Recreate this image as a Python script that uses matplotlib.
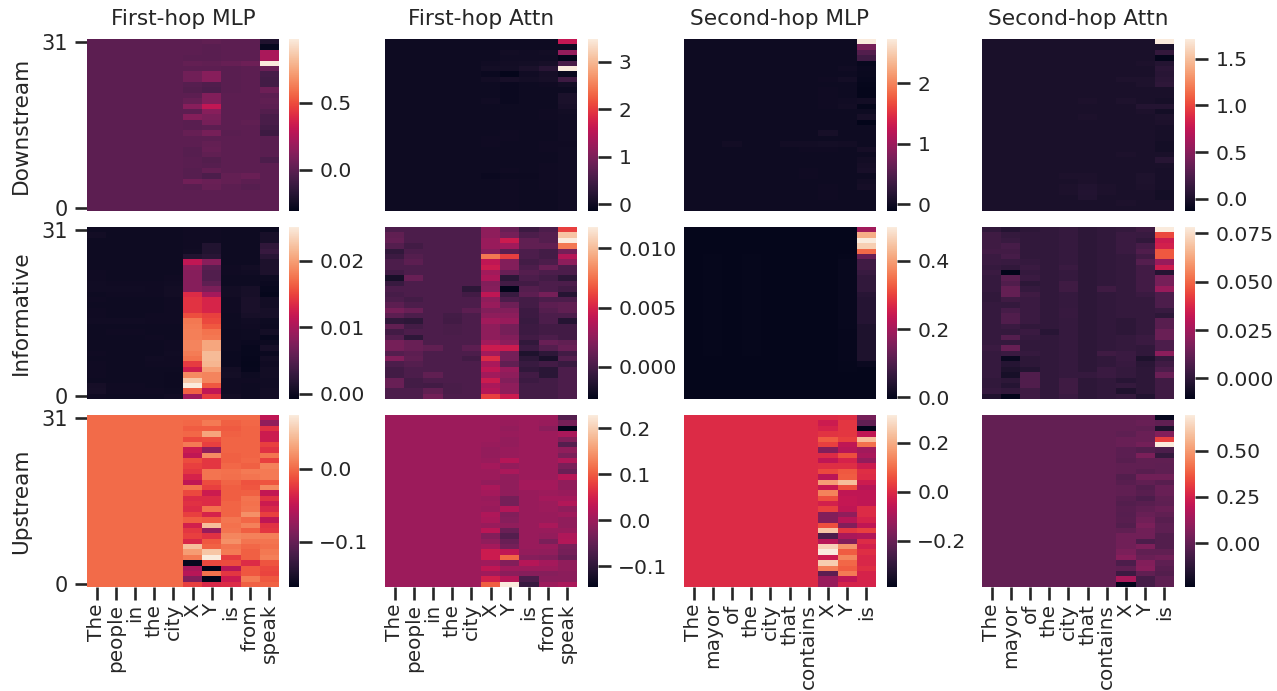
import numpy as np
import matplotlib
matplotlib.use("Agg")
import matplotlib.pyplot as plt
import seaborn as sns

# rows are listed top to bottom (layer 31 first, layer 0 last)
titles = ["First-hop MLP", "First-hop Attn", "Second-hop MLP", "Second-hop Attn"]
row_names = ["Downstream", "Informative", "Upstream"]
first_hop_words = ["The", "people", "in", "the", "city", "X", "Y", "is", "from", "speak"]
second_hop_words = ["The", "mayor", "of", "the", "city", "that", "contains", "X", "Y", "is"]

# ---- Downstream / First-hop MLP
d1_x = [0,0,0,-.01,.02,0,.06,.06,-.02,-.03,0,.03,.13,0,.12,-.01,-.01,.03,0,0,-.02,-.02,-.01,-.01,-.02,-.02,.06,-.01,0,0,0,0]
d1_y = [.01,-.01,-.01,-.01,.01,0,.13,.13,-.04,-.05,.11,.11,.3,.13,.09,.08,0,.08,0,.02,.03,.01,-.03,-.02,.02,-.05,.04,.03,0,0,0,0]
d1_is = [0,0,0,0,.03,-.01,-.01,-.01,-.01,-.01,0,0,0,0,0,0,0,-.01,0,0,0,0,0,0,0,.02,.02,0,0,0,0,0]
d1_from = [0,0,0,0,.05,0,0,0,0,0,0,0,0,0,0,.01,0,0,0,0,0,0,0,0,0,.04,0,-.02,0,0,0,0]
d1_speak = [-.2,-.28,.23,.23,.975,.04,-.07,-.08,-.08,.05,0,.01,0,-.03,-.06,-.06,-.08,-.1,-.01,-.01,-.01,-.01,-.05,0,0,0,0,0,0,0,0,0]

# ---- Informative / First-hop MLP (x 1e-3)
i1_the = [.2,.5,.2,.2,.2,.2,.2,.2,.3,.3,.4,.4,.2,.3,.2,.3,.3,.4,.2,.2,.2,.2,.2,.3,.2,.3,.3,.3,.2,.7,.8,.3]
i1_people = [.2,.2,.2,.2,.2,.2,.2,.2,.2,.2,.3,.4,.3,.2,.2,.2,.2,.4,.2,.3,.2,.2,.2,.2,.2,.2,.2,.2,.2,.3,.3,.2]
i1_the2 = [.2,.2,.2,.2,.2,.2,.2,.2,.2,.2,.3,.3,.3,.2,.2,.2,.3,.3,.2,.2,.3,.2,.2,.2,.4,.3,.2,.2,.2,.2,.3,.2]
i1_city = [.2,.2,.2,.2,.2,.2,.2,.2,.2,.3,.4,.5,.5,.3,.3,.3,.3,.3,.2,.2,.2,.3,.3,.4,.3,.3,.2,.1,.1,.1,.2,.4]
i1_x = [.3,.3,.3,.3,.4,1.5,11.5,8.5,8,8,8,8,13.5,14,14,14,15.5,17.8,18,18.2,18.2,18.5,18.5,18,17.5,14.5,12.5,18.8,22.5,25.1,16.5,9.5]
i1_y = [.3,.3,.3,1.5,1.5,2,8.2,5.2,4.7,4.7,5.5,7.2,9.8,13,13,13,14.8,15.2,16,17.5,17.8,20.5,20.5,21.8,21.8,21.5,20,18.5,18.5,16,11.5,14.5]
i1_is = [.2,.2,.2,.2,.2,.2,.2,.3,.3,.2,.2,.5,.5,.3,.3,.3,.2,.2,.2,.1,.1,.1,.1,0,0,0,.5,.6,.3,.3,.3,.5]
i1_from = [.2,.2,.2,.2,.2,.2,.2,.5,.4,.2,.2,.8,.8,1,1,1,.8,.4,.3,.2,.2,0,-.2,-.2,-.3,-.4,-.3,.2,.3,.2,.2,.2]
i1_speak = [0,.9,.9,2.5,3,2,1.2,1.2,1.2,.2,0,-.2,-.4,.5,.5,.8,.8,.2,.1,.6,-.2,.1,.8,0,.5,.3,.5,.5,.4,.4,.5,.5]

# ---- Upstream / First-hop MLP
u1_x = [0,-.002,-.007,-.002,-.016,.008,-.044,-.051,-.014,-.021,-.025,-.037,-.051,.003,-.016,-.032,-.028,-.032,-.021,-.007,-.04,-.025,-.021,-.035,.045,.026,.008,-.157,-.063,-.056,-.084,-.021]
u1_y = [0,.008,-.007,.031,-.014,-.021,-.077,.017,-.025,-.025,.005,.005,-.014,-.021,-.044,-.032,-.032,.003,-.037,-.009,.045,-.073,-.028,-.009,-.004,.05,.073,-.016,-.162,.003,-.162,-.035]
u1_is = [0,-.005,-.008,-.005,-.003,-.003,-.003,-.005,-.005,-.002,.003,.002,-.003,-.006,-.006,-.006,-.003,-.003,-.003,.006,.003,.005,.014,.02,.005,.008,-.023,-.014,-.056,-.025,-.044,-.032]
u1_from = [0,-.002,-.003,-.003,-.003,-.003,-.003,-.003,-.002,-.005,.008,.005,-.012,-.01,-.005,.005,.003,.005,.02,-.002,.011,-.006,.011,.005,-.002,-.005,-.005,-.032,-.01,-.01,.008,-.005]
u1_speak = [-.051,-.077,-.028,-.044,-.044,-.021,-.028,.005,-.021,.011,.008,.008,-.011,.015,-.049,-.028,-.044,-.035,-.021,-.051,-.028,-.025,.01,.005,.002,.007,.01,-.011,-.016,-.018,-.009,-.004]

# ---- Downstream / First-hop Attn
d2_x = [0,0,0,0,.02,.05,-.03,.03,0,0,0,.02,0,0,0,0,0,0,.01,.01,0,0,0,0,0,-.04,0,0,0,0,0,0]
d2_y = [0,0,.03,.02,.03,.05,-.1,.08,-.03,-.03,-.03,-.03,0,0,0,0,0,.01,.01,0,0,0,0,0,.01,-.02,.01,.01,.01,.01,.01,.01]
d2_is = [0,0,.02,.02,.05,.12,.02,.05,0,0,0,0,0,0,0,0,0,0,0,0,0,0,0,0,0,-.02,0,0,0,0,0,0]
d2_from = [0,0,.03,.02,.08,.25,.06,.08,.01,0,0,0,0,.01,.01,0,0,0,0,.01,.01,0,0,.01,.01,.01,.01,.01,0,0,0,0]
d2_speak = [1.6,0,1.2,-.12,.55,3.48,-.05,.45,.05,0,.12,.12,.1,.04,.02,.02,.02,.02,.02,.01,.02,.02,.02,.02,.02,.02,.02,.02,.02,.02,.02,.02]

# ---- Informative / First-hop Attn (x 1e-3)
i2_the = [.2,.9,1.07,.5,-.8,-.4,.2,.2,-.2,-1.8,-.5,.2,0,.2,.8,1.65,.8,-.8,.9,-.2,.5,1.65,1.65,.5,2.1,.2,-.2,-.2,1.2,1.2,.2,.2]
i2_people = [.2,.2,.2,-.2,.2,.5,.8,.2,.2,1.2,.2,.2,.2,-.1,.2,1.2,.2,-1,-.1,.2,-.9,1.2,1.2,.8,.9,.5,.2,.2,-.1,-.1,.2,.2]
i2_in = [.2,.2,.2,.2,.2,.2,.2,.2,.2,.2,.2,.2,.2,.2,.2,.2,.2,.2,.2,.2,.2,.2,.9,.2,.2,.2,.2,.9,.2,-.2,.9,1.5]
i2_the2 = [.2,.2,.2,.2,.2,.2,.2,.2,.2,.2,.2,.2,.2,.2,.2,.2,-.1,-.2,.1,.1,.2,.2,.2,.2,.2,.2,.2,.2,.2,.1,.1,.2]
i2_city = [.2,.2,.2,.2,.2,.2,.2,.2,.2,.2,.2,-.96,-.2,.2,.2,.8,.2,.2,.2,.2,.2,.2,.8,.2,-.2,.2,.2,.2,.2,.2,.2,.2]
i2_x = [2.5,2.5,2.8,2.8,2.2,7.7,4.1,4.55,3.1,3.5,2.1,2.2,4.1,2.5,2.8,2.1,2.5,3.1,2.5,2.5,2.5,3.1,4.55,3.1,5.3,3.4,4.1,3.1,4.55,3.4,3.8,6]
i2_y = [1.2,1.65,4.55,3.1,.8,6,2.1,2.1,1.2,-.96,-.2,-2.7,-.5,.2,1.36,2.1,2.4,2.8,1.65,1.65,2.1,2.4,4.55,1.65,1.65,.9,2.8,2.5,2.1,2.5,2.5,4.55]
i2_is = [-.4,.2,.9,.9,.2,.2,-.1,.2,.5,.2,-.2,.5,.8,-.1,-.1,-.4,-.4,-.5,-.4,-.4,-.2,-.8,-.4,-1.54,-.96,-.5,-.8,-.2,-.4,-.1,-.1,-.1]
i2_from = [.2,.5,.5,.9,-.1,-.1,.2,1.2,.2,-.1,.2,.2,1.65,.2,.8,.5,.2,.2,-.2,-.2,.2,1.2,.5,-.96,-1.7,-.2,-1.1,-1.1,-.1,-.1,-.1,-.1]
i2_speak = [6,10.3,11.8,7.7,1.65,3.8,2.4,.2,.2,-.96,.2,-.2,-1.25,.2,.9,.9,.2,-1.25,-.2,-.2,-.2,.9,1.2,-.2,.5,-.5,.2,.2,.2,.2,.2,.2]

# ---- Upstream / First-hop Attn
u2_x = [0,0,0,0,0,-.003,-.007,-.007,-.003,.008,0,0,-.007,.012,.008,-.003,0,-.003,.016,.012,-.003,.027,-.022,-.01,.008,.042,.042,.004,.031,.004,.049,.102]
u2_y = [0,-.003,-.007,-.003,-.007,-.007,-.003,-.003,.023,-.007,.012,-.01,-.01,-.01,-.01,-.033,-.033,.019,-.022,-.018,-.01,-.044,-.063,-.044,-.033,.031,.109,-.022,.004,-.014,.023,.229]
u2_is = [0,0,0,0,0,0,0,0,0,0,0,0,.008,.008,-.003,-.003,-.003,-.003,-.003,-.003,-.003,-.003,-.003,-.003,-.003,-.007,-.018,.023,0,-.018,-.07,-.089]
u2_from = [0,-.003,-.014,0,0,0,0,0,0,0,0,0,.008,.008,0,.008,0,0,-.003,-.003,.012,-.003,-.007,-.029,-.003,-.01,-.022,.008,0,-.018,-.014,0]
u2_speak = [-.063,-.033,-.145,.012,-.022,-.063,-.01,-.029,.016,-.029,-.044,.023,-.01,-.01,-.003,.008,.019,-.01,.004,-.01,-.01,-.003,.016,.019,-.029,-.033,-.044,-.01,-.01,-.014,-.014,.012]

# ---- Downstream / Second-hop MLP
d3_of = [0,0,0,0,0,0,0,0,0,0,0,0,0,0,0,0,0,0,0,.03,0,0,0,0,0,0,0,0,0,0,0,0]
d3_city = [0,0,0,0,0,0,0,0,0,0,0,0,0,0,0,0,0,0,0,.03,.01,0,0,0,.01,.01,0,0,0,0,0,0]
d3_contains = [0,0,0,0,0,0,0,.01,0,.01,.01,.01,.01,0,0,0,0,.06,0,.04,.01,0,0,0,0,0,0,.01,.01,.01,0,0]
d3_y = [0,0,0,0,0,.02,0,.04,0,0,0,.02,.03,0,0,0,0,0,0,.03,0,0,0,0,0,0,0,0,0,0,0,0]
d3_is = [2.73,.74,.5,.37,-.05,-.03,-.04,-.05,-.07,-.08,-.08,.03,-.07,0,.06,-.1,0,0,0,0,.05,0,.03,.05,.07,0,.03,.05,0,0,0,0]

# ---- Informative / Second-hop MLP
i3_people = [0,0,0,0,0,.001,.001,.001,.001,.001,.002,.002,.002,.002,.002,.002,.002,.002,.002,.002,.002,.002,.002,.002,0,0,0,0,0,0,0,0]
i3_y = [0,0,0,0,0,.001,.005,.005,.005,.005,.005,.005,.005,.005,.005,.005,.005,.005,.005,.003,.003,.003,.003,.003,.003,.002,.002,0,0,0,0,0]
i3_is = [.197,.42,.5,.46,.34,.13,.08,.08,.07,.06,.06,.06,.05,.045,.045,.045,.045,.045,.035,.035,.035,.035,.035,.035,.035,.01,0,0,0,0,0,0]

# ---- Upstream / Second-hop MLP
u3_x = [0,-.037,-.016,.012,.075,.033,-.157,0,-.058,.005,.047,-.065,.174,-.044,.131,.054,-.023,.033,-.157,-.157,.054,.244,-.248,-.072,.265,.314,-.037,.258,.124,-.22,-.122,-.122]
u3_y = [.005,.019,.019,.019,.033,-.058,-.072,.054,-.016,.005,.068,.075,.23,.054,-.058,-.051,-.051,-.058,-.136,-.072,-.157,.019,-.093,-.157,.16,.075,.138,.089,.075,.117,-.058,-.016]
u3_is = [-.178,-.213,-.389,-.058,.23,.103,-.108,-.093,-.129,-.037,.005,0,-.037,-.072,-.058,-.058,-.058,0,0,-.016,-.058,.033,-.079,0,-.023,.005,-.009,-.009,.005,-.016,-.016,-.016]

# ---- Downstream / Second-hop Attn
d4_city = [0,0,0,0,0,0,0,0,0,0,0,0,0,0,0,0,0,0,0,0,0,0,0,0,0,.01,0,.01,.01,0,0,0]
d4_that = [0,0,0,0,0,0,0,0,0,0,0,.01,0,0,.01,0,0,0,0,0,0,0,0,0,0,.01,.01,.03,.04,.03,0,0]
d4_contains = [0,0,0,0,0,0,0,0,0,0,0,0,0,0,0,0,0,0,0,0,0,0,0,0,0,0,0,.01,.01,0,0,0]
d4_x = [0,0,0,0,0,0,0,.02,0,0,0,.02,0,0,0,0,0,0,0,0,0,.01,0,0,0,0,0,0,0,0,.01,0]
d4_y = [0,0,0,0,.01,0,0,.02,.02,0,0,0,.05,.01,0,0,0,0,0,0,0,0,0,0,0,.02,.02,.01,0,0,0,0]
d4_is = [1.71,0,.12,-.11,.05,.08,.07,.08,.1,0,0,-.02,.05,-.03,.02,.01,-.01,-.02,-.02,-.03,-.03,0,.06,0,-.01,-.01,-.01,-.01,-.03,-.03,0,0]

# ---- Informative / Second-hop Attn (x 1e-3)
i4_the = [1,4,4,4,5,3,3,2,3,2,2,2,1,1,2,2,2,2,2,2,2,2,3,2,2,2,2,2,1,1,2,-3]
i4_mayor = [-1.7,1.9,2.7,6,5,6,2.7,1,-10.6,10,8,12,12,4,1.9,6,8,8,3,1.9,9,1.9,13,3,-7.9,-1.7,-3.5,-5.3,0,-1.7,1,-10.6]
i4_of = [0,1,1,1,1,1,2,3,2,3,0,2,4,3,3,3,3,3,1,3,2,1,1,2,0,0,-2,8,8,8,4,4]
i4_the2 = [1,1,1,1,1,1,1,1,1,1,1,1,1,1,1,1,1,1,1,-1,1,1,1,1,1,1,1,1,1,1,1,1]
i4_city = [2,2,2,2,2,2,2,3,2,2,4,4,2,2,2,2.5,2.5,2,2,2,2,2,2,2,2,2,2,2,4,4,4,3]
i4_that = [0,0,0,0,0,0,0,0,0,0,0,0,0,0,0,0,0,0,0,0,0,0,0,0,0,0,0,2,0,0,0,0]
i4_contains = [1,1,1,1,1,1,1,1,1,1,1,4,1,1,1,1,1,1,1,1,1,1,1,4,1,1,3,3,1,1,1,1]
i4_x = [1.9,3,3,3,3,1.9,1.9,1.9,1.9,1.9,1.9,1.9,1.9,1.9,1.9,1.9,1.9,0,0,0,1.9,1.9,1.9,3,3,2.5,1.9,1.9,-1,1.9,-3,1.9]
i4_y = [4,2.7,1,6,8,5,9,5,5,5,5,5,3,1.9,1.9,1.9,1.9,1.9,1.9,1.9,3,3,1,1,-3.5,-.8,0,0,0,0,0,-2.6]
i4_is = [78.3,44.5,33.9,35.6,47.2,47.2,23.2,33.9,-1.7,16,16,23.2,7.2,7.2,7.2,2.7,0,9.8,9.8,13.4,13.4,7.2,7.2,20.5,1.9,4.5,7.2,13.4,4.5,4.5,4.5,4.5]

# ---- Upstream / Second-hop Attn
u4_x = [0,0,0,-.01,.01,.01,-.016,-.016,-.023,-.005,-.005,-.036,-.023,-.005,-.005,-.023,-.036,-.023,-.03,-.023,-.036,-.005,.03,.03,.03,.05,.08,-.05,-.005,-.09,.15,-.237]
u4_y = [.005,.01,-.005,.016,.016,.036,-.036,.05,-.005,-.005,-.023,.03,-.005,-.036,-.023,-.05,-.023,-.005,.01,.03,.05,.03,.03,-.05,.06,-.005,.016,.07,.08,-.005,-.07,-.07]
u4_is = [-.218,-.005,-.163,.07,.32,.692,-.051,-.107,-.005,-.01,-.01,.03,-.023,.01,.01,-.005,-.01,.016,-.005,-.023,-.01,-.01,-.036,-.036,-.036,-.005,.03,-.01,-.023,-.036,-.01,-.01]

# panel colour ranges
d_ranges = [(-.306, .975), (-.14, 3.48), (-.11, 2.727), (-.129, 1.71)]
i_ranges = [(-.0008, .0251), (-.0027, .0118), (-.005, .499), (-.0106, .0783)]
u_ranges = [(-.162, .0734), (-.145, .229), (-.389, .314), (-.237, .692)]
d_ticks = [[0.0, 0.5], [0, 1, 2, 3], [0, 1, 2], [0.0, 0.5, 1.0, 1.5]]
i_ticks = [[0.0, 0.01, 0.02], [0.0, 0.005, 0.01], [0.0, 0.2, 0.4], [0.0, 0.025, 0.05, 0.075]]
u_ticks = [[-0.1, 0.0], [-0.1, 0.0, 0.1, 0.2], [-0.2, 0.0, 0.2], [0.0, 0.25, 0.5]]
d_fmt = ["%.1f", "%d", "%d", "%.1f"]
i_fmt = ["%.2f", "%.3f", "%.1f", "%.3f"]
u_fmt = ["%.1f", "%.1f", "%.1f", "%.2f"]


def make_grid(base, cols, scale=1.0):
    grid = np.full((32, 10), float(base))
    for idx, vals in cols.items():
        grid[:, idx] = np.array(vals) * scale
    return grid


grids = [
    [make_grid(0.0, {5: d1_x, 6: d1_y, 7: d1_is, 8: d1_from, 9: d1_speak}),
     make_grid(0.0, {5: d2_x, 6: d2_y, 7: d2_is, 8: d2_from, 9: d2_speak}),
     make_grid(0.0, {2: d3_of, 5: d3_of, 6: d3_city, 7: d3_contains, 8: d3_y, 9: d3_is}),
     make_grid(0.0, {4: d4_city, 5: d4_that, 6: d4_contains, 7: d4_x, 8: d4_y, 9: d4_is})],
    [make_grid(.0002, {0: i1_the, 1: i1_people, 2: i1_people, 3: i1_the2, 4: i1_city, 5: i1_x, 6: i1_y, 7: i1_is, 8: i1_from, 9: i1_speak}, 1e-3),
     make_grid(.0002, {0: i2_the, 1: i2_people, 2: i2_in, 3: i2_the2, 4: i2_city, 5: i2_x, 6: i2_y, 7: i2_is, 8: i2_from, 9: i2_speak}, 1e-3),
     make_grid(0.0, {1: i3_people, 3: i3_people, 8: i3_y, 9: i3_is}),
     make_grid(.001, {0: i4_the, 1: i4_mayor, 2: i4_of, 3: i4_the2, 4: i4_city, 5: i4_that, 6: i4_contains, 7: i4_x, 8: i4_y, 9: i4_is}, 1e-3)],
    [make_grid(0.0, {5: u1_x, 6: u1_y, 7: u1_is, 8: u1_from, 9: u1_speak}),
     make_grid(0.0, {5: u2_x, 6: u2_y, 7: u2_is, 8: u2_from, 9: u2_speak}),
     make_grid(0.0, {7: u3_x, 8: u3_y, 9: u3_is}),
     make_grid(0.0, {7: u4_x, 8: u4_y, 9: u4_is})],
]
ranges = [d_ranges, i_ranges, u_ranges]
ticks = [d_ticks, i_ticks, u_ticks]
fmts = [d_fmt, i_fmt, u_fmt]

W, H = 1277, 691
col_left = [87, 385, 684, 982]
cbar_left = [289, 588, 887, 1185]
row_top = [39, 227, 415]
hm_w, hm_h, cb_w = 192, 172, 9.5


def ax_px(fig, x, y, w, h):
    return fig.add_axes([x / W, 1 - (y + h) / H, w / W, h / H])


sns.set_theme(style="ticks", context="talk")
plt.rcParams["font.family"] = ["DejaVu Sans"]
fig = plt.figure(figsize=(W / 100, H / 100), dpi=100)

for r in range(3):
    for c in range(4):
        ax = ax_px(fig, col_left[c], row_top[r], hm_w, hm_h)
        cax = ax_px(fig, cbar_left[c], row_top[r], cb_w, hm_h)
        vmin, vmax = ranges[r][c]
        sns.heatmap(grids[r][c], ax=ax, cbar_ax=cax, cmap="rocket", vmin=vmin, vmax=vmax,
                    xticklabels=False, yticklabels=False)
        # real minus sign on the negative colorbar ticks
        cbar_labels = [(fmts[r][c] % t).replace("-", "\u2212") for t in ticks[r][c]]
        cax.set_yticks(ticks[r][c])
        cax.set_yticklabels(cbar_labels)
        cax.tick_params(axis="y", labelsize=14.6, length=9, width=1.9, pad=6)

        if c == 0:
            ax.set_yticks([0.5, 31.5])
            ax.set_yticklabels(["31", "0"], rotation=0, fontsize=15)
            ax.set_ylabel(row_names[r], fontsize=15.6, labelpad=7)
            ax.tick_params(axis="y", length=9, width=1.9, pad=5)
        else:
            ax.set_yticks([])
        if r == 2:
            words = first_hop_words if c < 2 else second_hop_words
            ax.set_xticks(np.arange(10) + 0.5)
            ax.set_xticklabels(words, rotation=90, fontsize=14.4)
            ax.tick_params(axis="x", length=9, width=1.9, pad=3)
        else:
            ax.set_xticks([])
        if r == 0:
            ax.set_title(titles[c], fontsize=15.6, pad=10)

fig.savefig("out.png", dpi=100)
